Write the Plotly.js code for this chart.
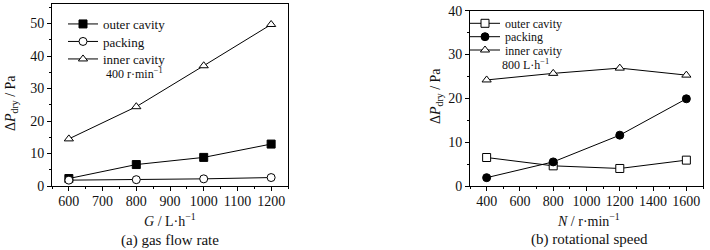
<!DOCTYPE html>
<html><head><meta charset="utf-8">
<script src="https://cdn.plot.ly/plotly-3.0.1.min.js"></script>
<style>html,body{margin:0;padding:0;background:#fff}#c{width:710px;height:250px}</style>
</head><body><div id="c"></div>
<script>
// (a) gas flow rate
const flowG = [600, 800, 1000, 1200];
const aOuter = [2.3, 6.6, 8.8, 12.9];
const aPacking = [1.8, 1.95, 2.2, 2.6];
const aInner = [14.5, 24.4, 37.0, 49.7];
// (b) rotational speed
const speedN = [400, 800, 1200, 1600];
const bOuter = [6.5, 4.6, 4.0, 5.9];
const bPacking = [1.9, 5.5, 11.6, 19.9];
const bInner = [24.2, 25.7, 26.9, 25.3];

const seriesNames = ['outer cavity', 'packing', 'inner cavity'];
const captions = ['(a) gas flow rate', '(b) rotational speed'];

const serif = "'Liberation Serif', 'Times New Roman', Times, serif";
const ink = '#111';
const line = {color: '#000', width: 1};

function tr(x, y, name, symbol, filled, xa, ya, leg) {
  return {x: x, y: y, name: name, type: 'scatter', mode: 'lines+markers',
    xaxis: xa, yaxis: ya, legend: leg, line: line,
    marker: {symbol: symbol, size: 8, color: filled ? '#000' : '#fff',
      line: {color: '#000', width: 1}}};
}

const data = [
  tr(flowG, aOuter, seriesNames[0], 'square', true, 'x', 'y', 'legend'),
  tr(flowG, aPacking, seriesNames[1], 'circle', false, 'x', 'y', 'legend2'),
  tr(flowG, aInner, seriesNames[2], 'triangle-up', false, 'x', 'y', 'legend3'),
  tr(speedN, bOuter, seriesNames[0], 'square', false, 'x2', 'y2', 'legend4'),
  tr(speedN, bPacking, seriesNames[1], 'circle', true, 'x2', 'y2', 'legend5'),
  tr(speedN, bInner, seriesNames[2], 'triangle-up', false, 'x2', 'y2', 'legend6')
];

function axis(extra, minorDtick) {
  return Object.assign({
    showline: true, mirror: true, linecolor: '#000', linewidth: 1,
    ticks: 'outside', ticklen: 4, tickwidth: 1, tickcolor: '#000',
    showgrid: false, zeroline: false,
    tickfont: {family: serif, size: 14, color: ink},
    minor: {ticks: 'outside', ticklen: 2, tickcolor: '#000', tickwidth: 1, showgrid: false, dtick: minorDtick}
  }, extra);
}

const ann = (text, x, y, size, opts) => Object.assign({text: text, x: x, y: y, xref: 'paper', yref: 'paper',
  xanchor: 'center', yanchor: 'middle',
  showarrow: false, font: {family: serif, size: size, color: ink}}, opts || {});

function leg(xpx, ypx, size) {
  return {x: xpx/710, y: 1 - ypx/250, xanchor: 'left', yanchor: 'middle', bgcolor: 'rgba(0,0,0,0)',
    borderwidth: 0, font: {family: serif, size: size, color: ink}};
}

const layout = {
  width: 710, height: 250, margin: {l: 0, r: 0, t: 0, b: 0},
  paper_bgcolor: '#fff', plot_bgcolor: '#fff', showlegend: true,
  xaxis: axis({domain: [52/710, 288/710], range: [550, 1250], dtick: 100, tick0: 600, ticklabelstandoff: -2}, 50),
  yaxis: axis({domain: [64/250, 246/250], range: [0, 56], dtick: 10}, 5),
  xaxis2: axis({domain: [470/710, 703/710], range: [300, 1700], dtick: 200, tick0: 400, anchor: 'y2', ticklabelstandoff: -2}, 100),
  yaxis2: axis({domain: [64/250, 239.3/250], range: [0, 40], dtick: 10, anchor: 'x2'}, 5),
  legend: leg(63, 24, 13),
  legend2: leg(63, 41.5, 13),
  legend3: leg(63, 59, 13),
  legend4: leg(465, 23.3, 12),
  legend5: leg(465, 36.7, 12),
  legend6: leg(465, 50, 12),
  annotations: [
    ann('400 r·min<sup>−1</sup>', 104/710, 1 - 73/250, 12, {xanchor: 'left'}),
    ann('800 L·h<sup>−1</sup>', 500/710, 1 - 64/250, 12, {xanchor: 'left'}),
    ann('<i>G</i> / L·h<sup>−1</sup>', 170/710, 1 - 219.5/250, 14),
    ann('<i>N</i> / r·min<sup>−1</sup>', 588/710, 1 - 219.5/250, 14),
    ann(captions[0], 170/710, 1 - 240.5/250, 15),
    ann(captions[1], 589/710, 1 - 239/250, 15),
    ann('Δ<i>P</i><sub>dry</sub> / Pa', 12/710, 1 - 103/250, 14, {textangle: -90}),
    ann('Δ<i>P</i><sub>dry</sub> / Pa', 436/710, 1 - 96/250, 14, {textangle: -90})
  ]
};

Plotly.newPlot('c', data, layout, {displayModeBar: false, staticPlot: true});
</script>
</body></html>
